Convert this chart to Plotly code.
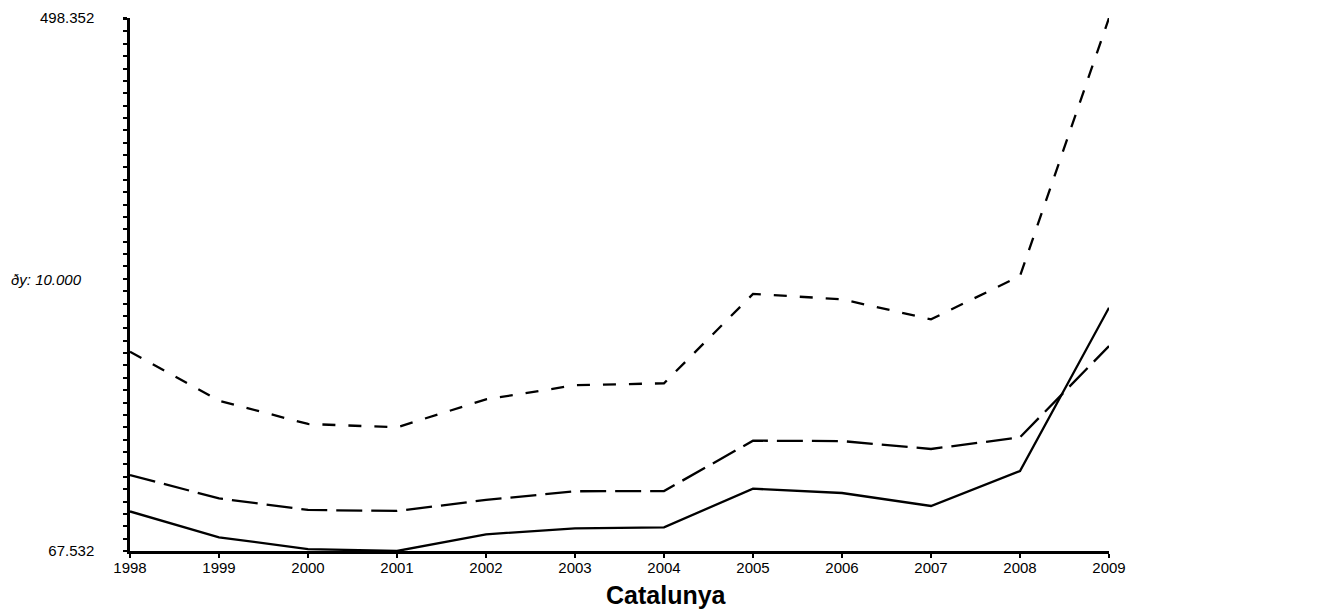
import plotly.graph_objects as go

years = [1998, 1999, 2000, 2001, 2002, 2003, 2004, 2005, 2006, 2007, 2008, 2009]
serie_1 = [99.5, 78.6, 69.1, 67.532, 81.0, 85.9, 86.7, 117.9, 114.4, 103.9, 132.2, 264.2]
serie_2 = [128.9, 110.1, 100.7, 99.9, 108.8, 115.8, 116.0, 156.7, 156.4, 150.0, 159.4, 233.2]
serie_3 = [228.6, 189.0, 170.2, 167.5, 190.1, 201.5, 203.1, 275.3, 271.0, 254.8, 289.8, 498.352]

y_min = 67.532
y_max = 498.352
y_tickvals = [67.532, 498.352]
y_ticktext = ["67.532", "498.352"]
y_step = 10
step_label = "ðy: 10.000"
title_text = "Catalunya"

FONT = "Liberation Sans, Arial, sans-serif"

fig = go.Figure()
for vals, dash in [(serie_1, "solid"), (serie_2, "26px,9px"), (serie_3, "13px,13px")]:
    fig.add_trace(go.Scatter(
        x=years, y=vals, mode="lines",
        line=dict(color="black", width=2.3, dash=dash),
        cliponaxis=False, showlegend=False, hoverinfo="x+y",
    ))

fig.update_layout(
    width=1343, height=610,
    margin=dict(l=122, r=242, t=10, b=67, autoexpand=False),
    paper_bgcolor="white", plot_bgcolor="white",
    font=dict(family=FONT, color="black", size=15),
    showlegend=False,
)

fig.update_xaxes(
    range=[years[0], years[-1]],
    tickmode="array", tickvals=years, ticktext=[str(y) for y in years],
    ticks="outside", ticklen=4, tickwidth=2, tickcolor="black",
    showline=True, linecolor="black", linewidth=2.5,
    showgrid=False, zeroline=False, automargin=False,
    tickfont=dict(size=15, family=FONT, color="black"),
    ticklabelstandoff=-3,
)

fig.update_yaxes(
    range=[y_min, y_max],
    tickmode="array", tickvals=y_tickvals, ticktext=y_ticktext,
    ticks="outside", ticklen=4, tickwidth=2, tickcolor="black",
    minor=dict(tick0=y_min, dtick=y_step, ticks="outside", ticklen=4,
               tickwidth=2, tickcolor="black", showgrid=False),
    showline=True, linecolor="black", linewidth=2.5,
    showgrid=False, zeroline=False, automargin=False,
    tickfont=dict(size=15, family=FONT, color="black"),
    ticklabelstandoff=26,
)

fig.add_annotation(
    text="<i>" + step_label + "</i>", xref="paper", yref="paper",
    x=-0.1236, y=0.51, xanchor="left", yanchor="middle",
    showarrow=False, font=dict(size=15, family=FONT, color="black"),
)

fig.add_annotation(
    text="<b>" + title_text + "</b>", xref="paper", yref="paper",
    x=0.5475, y=-0.0826, xanchor="center", yanchor="middle",
    showarrow=False, font=dict(size=25, family=FONT, color="black"),
)

fig.write_html("out.html")
